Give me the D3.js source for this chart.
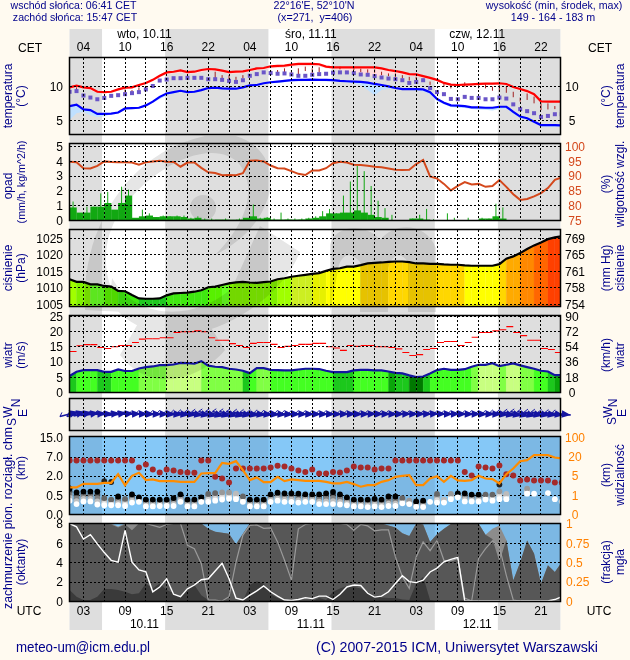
<!DOCTYPE html>
<html lang="pl">
<head>
<meta charset="utf-8">
<script src="https://cdn.jsdelivr.net/npm/d3@7/dist/d3.min.js"></script>
<style>
html,body{margin:0;padding:0;background:#fffaf0;}
svg{display:block;font-family:"Liberation Sans",Arial,sans-serif;}
</style>
</head>
<body>
<svg id="c" width="630" height="660"></svg>
<script>
// ---- data: one value per model hour, hour 0 = 10.11 01:00 UTC ----
const tMax=[9.8,10.05,9.8,9.7,9.15,9.1,9.15,9.5,9.75,9.8,
10.15,10.45,10.9,11.5,12.0,12.1,12.3,12.05,12.1,12.35,
12.5,12.45,12.25,12.05,12.1,12.15,12.35,12.6,12.65,12.9,
12.95,13.0,13.15,13.25,13.25,13.25,13.2,12.85,12.75,12.75,
12.75,12.75,12.75,12.75,12.75,12.6,12.35,12.2,12.0,11.75,
11.7,11.45,11.2,10.9,10.45,10.2,10.15,10.2,10.25,10.3,
10.35,10.35,10.4,10.3,9.85,9.55,9.25,8.8,7.75,7.7,7.7,7.7];
const tMaxLow=[9.6,9.8,9.6,9.4,9.0,8.95,9.0,9.3,9.55,9.65,
9.95,10.25,10.7,11.3,11.7,11.85,12,11.8,11.8,12.05,
12.2,12.2,12,11.8,11.8,11.9,12.1,12.3,12.4,12.6,
12.65,12.7,12.85,12.9,12.9,12.9,12.85,12.6,12.5,12.35,
12.2,12,11.9,11.7,11.35,11.5,11.7,11.7,11.7,11.5,
11.45,11.2,11,10.7,10.3,10.05,10,10.05,10.1,10.15,
10.2,10.2,10.25,10.1,9.6,9.3,8.95,8.5,7.6,7.6,7.6,7.6];
const tMin=[7.05,7.25,6.55,6.45,5.9,5.9,5.95,6.1,6.7,6.75,
6.8,7.15,7.7,8.4,8.9,9.1,9.3,9.1,9.15,9.4,
9.7,9.75,9.65,9.6,9.6,9.8,10.1,10.15,10.4,10.55,
10.65,10.75,10.85,10.9,10.9,10.95,10.9,10.9,10.85,10.75,
10.7,10.65,10.6,10.5,10.3,10.15,9.95,9.7,9.55,9.55,
9.55,9.5,9.1,8.1,7.55,7.15,7.1,7.05,6.85,6.85,
6.8,6.8,6.95,6.95,6.2,5.5,5.25,4.75,4.25,4.25,4.25,4.2];
const tMinLow=[5.0,6.0,6.2,5.7,5.45,5.55,5.85,5.95,6.5,6.65,
6.7,7,7.55,8.1,8.6,8.9,9.1,9,9,9.25,
9.6,9.65,9.5,9.45,9.5,9.7,10.0,10.05,10.3,10.4,
10.45,10.55,10.7,10.7,10.75,10.8,10.75,10.7,10.7,10.6,
10.5,10.4,10.1,9.4,8.65,9.4,9.6,9.55,9.4,9.4,
9.35,9.2,8.8,7.8,7.3,6.9,6.8,6.75,6.6,6.55,
6.5,6.4,6.6,6.7,5.9,5.3,5.05,4.55,4.05,4.0,4.0,4.0];
const tMean=[9.15,9.25,8.6,8.3,8.05,8.25,8.55,8.65,8.8,8.95,
9.1,9.5,10.0,10.8,10.95,11.15,11.15,11.2,11.2,11.2,
11.0,11.0,10.9,10.75,10.6,10.85,11.5,11.75,12.0,11.9,
11.8,11.85,11.7,11.5,11.5,11.65,11.75,11.8,11.95,12.0,
12.0,11.9,11.7,11.65,11.45,11.25,11.1,11.0,10.85,10.45,
10.6,10.85,9.7,9.1,8.8,8.1,8.05,8.4,8.25,8.25,
8.05,8.05,8.3,8.15,7.3,6.6,6.3,6.0,5.45,5.6,5.85,5.85];
const stalkHours=[1,8,9,10,11,12,21,22,23,24,25,29,30,31,32,33,34,35,36,38,39,41,42,43,44,45,46,47,48,49,50,51,52,54,55,57,59,60,61,62,63,64,65,66,67,68,69,70];
const stalkHi=[9.8,9.5,9.4,9.8,10,10.3,12.1,11.6,11.6,11.35,11.6,12.35,12.35,12.6,12.35,12.6,12.85,12.6,12.75,12.95,12.85,12.85,12.55,12.45,12.45,12.1,11.85,11.85,11.6,11.35,11.35,11.1,10.65,10.4,10.1,10.55,10.3,10.25,9.9,10.15,9.9,9.15,8.3,8.9,8.45,7.45,7.45,7.05];
const stalkLo=[9.4,9.0,9.0,9.3,9.65,9.9,11.15,11,11,10.9,11.15,11.95,11.95,11.95,11.85,11.75,12.2,11.85,12.05,12.6,12.45,12.35,12.05,11.95,11.95,11.6,11.45,11.25,11.1,10.8,11.0,10.9,10.15,9.9,9.65,9.9,9.65,9.65,9.3,9.15,9.0,8.35,7.7,7.95,7.45,6.45,6.55,6.6];

const rainBars=[.85,.5,.5,.9,.9,1.15,.7,1.15,1.65,.15,
.25,.3,.2,.25,.25,.25,.2,.1,.15,.03,
.02,.03,.03,.02,.03,.15,.25,.1,.15,.03,
.03,.04,.03,.04,.1,.15,.25,.45,.45,.5,
.5,.65,.5,.35,.2,.15,0,0,0,.1,
.1,.03,0,0,0,0,0,0,0,.1,
.1,.25,.1,0,0,0,0,0,0,0,0];
const rainSpikes=[1.25,0,.9,.9,1.8,1.9,0,2.25,2.05,0,
.7,.45,.2,.3,.25,.3,.3,.15,.25,.1,
.1,0,.1,0,.1,.1,1.05,.15,.2,.1,
.5,.1,.1,.1,.15,.25,.6,.75,.45,1.65,
2.6,3.65,3.3,2.3,1.3,.8,.35,0,0,.1,
.35,.75,.05,0,.45,.15,0,.15,0,.15,
.1,1.1,.85,0,0,0,0,0,0,0,0];
const humidity=[94.7,94.5,92.5,92.4,93.3,94.8,94.6,94.5,94.5,94.4,
93.7,94.5,94.8,95,94.7,94.6,93,94.4,94.4,92.6,
91.1,90.9,90.1,90.2,90.1,90.8,95,95.1,94.8,93.4,
92.5,92.4,91.5,90.6,90.2,91.7,91.7,92.5,94.2,94.7,
94.4,93.7,93.6,93.3,93.0,92.8,92.4,92.0,91.9,92.0,
93.9,95.3,89.7,89.0,87.2,85.0,86.5,87.8,87.0,87.2,
86.2,86.5,88.5,86.2,83.7,81.8,82.1,83.0,84.1,85.8,88.6,89.4];
const pressure=[1012.45,1011.65,1011.65,1010.9,1010.9,1010.4,1010.2,1008.9,1008.8,1007.65,
1006.6,1006.5,1006.5,1006.6,1007.55,1008.15,1008.25,1008.35,1008.65,1009.1,
1010,1010.2,1010.7,1011.2,1011.5,1011.65,1011.45,1011.35,1011.55,1011.75,
1012.45,1012.75,1013.2,1013.5,1013.8,1014.1,1014.3,1015,1015.6,1015.8,
1016.3,1016.3,1016.75,1017.25,1017.45,1017.55,1017.75,1017.85,1017.85,1017.65,
1017.25,1017.25,1017.15,1017.15,1016.95,1016.85,1016.85,1016.65,1016.55,1016.55,
1016.55,1016.55,1017.05,1018.7,1019.4,1020.4,1021.65,1022.75,1023.65,1024.65,1025.2,1025.5];
const wind=[5.25,6.65,7.2,7.2,7.2,6.65,6.65,7.4,6.9,6.9,
7.75,8.2,8.4,8.85,8.85,9.05,9.6,9.5,9.3,10.15,
8.65,8.3,8.2,7.65,7.4,7.0,6.2,7.85,7.85,7.3,
7.2,7.1,7.1,7.4,7.65,7.65,7.55,7.0,6.55,6.55,
6.55,7.1,7.3,7.3,7.1,7.1,6.75,6.3,6.1,5.45,
4.9,5.1,6.1,7.2,7.65,7.3,7.3,7.5,8.3,8.95,
8.95,9.5,8.5,8.95,9.4,8.75,8.2,7.65,7.0,6.75,5.55,5.55];
const windClass=[2,3,3,3,2,2,3,3,3,3,
4,4,4,4,5,5,5,5,5,4,
4,4,4,4,4,2,3,4,4,3,
3,3,3,3,3,3,3,3,2,2,
2,3,3,3,3,3,1,2,2,0,
0,2,3,3,3,3,3,3,4,5,
5,5,4,5,5,4,4,3,3,2,1,1];
const gust=[13.3,15.2,15.6,15.6,14.65,14.3,14.9,15.3,15.3,16.3,
17.4,17.5,17.5,17.85,17.85,19.55,19.8,19.8,20.1,19.8,
17.85,17,17,15.9,15.3,14.65,16,16.3,16.3,15.65,
14.65,15,15.3,15.65,15.65,16,16,14.9,14.45,13.7,
15.3,15,15.3,15.3,14.9,14.9,14.65,14.2,13,12,
12.3,14,14.3,16.3,16.6,16.6,15.3,16.3,18,19.55,
19.55,20.1,20.5,21.5,19.55,18.55,17,17,14.3,14,13];
const windDir=[255,255,258,262,265,268,265,262,265,268,
270,272,272,272,273,275,276,278,280,282,
284,285,285,285,284,282,280,278,276,274,
274,273,272,272,271,271,272,272,271,270,
270,271,270,269,270,270,271,270,269,270,
268,268,267,269,270,269,270,271,270,271,
272,273,276,280,282,284,284,282,282,280,278,276];

const visibility=[2.56,2.56,3.3,3.3,3.3,3.5,3.5,6.05,3,4.93,
7.1,4.05,4.2,3.85,3.85,3.85,3.7,3.7,3.7,6.58,
6.84,6.84,15,14.2,16.3,9.2,4.05,4.6,3.65,3.65,
4.73,3.85,4.2,4.05,3.9,3.9,3.9,3.7,3.37,3.37,
3.7,3.24,2.7,3.03,3.03,3.7,4.05,4.73,4.93,5.26,
3.03,3.03,4.39,4.86,3.7,4.93,3.98,3.9,4.05,4.93,
4.39,4.25,3.37,6.05,10.5,16.3,17.1,25.4,25.4,25.4,19.2,18.4];
const highBase=[5.95,5.95,5.95,5.95,5.95,5.95,5.95,5.95,5.95,5.95,
4.1,4.9,3.6,2.8,3.6,3.3,2.95,2.8,2.7,5.95,
5.95,1.9,1.77,1.47,3.85,3.85,3.85,3.85,3.85,4.1,
4.55,4.35,3.85,3.3,2.95,3.6,2.5,2.5,2.95,2.8,
3.3,4.35,4.1,4.1,3.6,3.85,3.85,5.95,5.95,5.95,
5.95,5.95,5.95,5.95,5.95,5.95,5.95,2.95,2,4.35,
4.1,3.85,4.6,2.35,2,1.62,1.7,1.62,1.62,1.62,1.47,1.47];
const baseTop=[1,.7,.76,.76,.76,.42,.38,.46,.4,.55,
.44,.38,.38,.38,.38,.42,.55,.38,.38,.44,
.58,.65,.7,.7,.6,.46,.38,.38,.38,.55,
.68,.63,.63,.6,.55,.55,.55,.63,.73,.55,
.44,.38,.38,.38,.4,.38,.46,.46,.42,.35,
.33,.35,null,.58,.38,.58,.63,.63,.53,.53,
.53,.53,.78,.58,null,null,.99,null,null,null,null,null];
const baseShade=[0,0,0,0,0,1,1,0,1,0,
0,0,0,0,0,0,0,0,0,0,
1,1,2,2,3,1,0,0,0,0,
0,0,0,0,0,0,0,0,0,0,
0,0,0,0,0,0,0,0,1,2,
0,0,0,1,3,2,0,0,0,0,
1,1,2,3,0,0,2,0,0,0,0,0];
const baseBottom=[.35,.26,.33,.33,.25,.23,.23,.23,.21,.3,
.32,.2,.2,.21,.21,.21,.32,.2,.2,.32,
.32,.35,.38,.4,.39,.32,.2,.2,.2,.32,
.35,.32,.32,.3,.32,.32,.26,.26,.26,.25,
.23,.2,.2,.18,.2,.18,.21,.21,.28,.26,
.19,.18,.32,.3,.3,.39,.44,.33,.33,.33,
.38,.35,.39,.39,null,null,.6,.6,null,.65,.39,.33];
const upperHours=[5,6,62];
const upperBase=[1.57,1.5,1.3];

const cloudTotal=[8,8,8,8,8,8,8,7.7,8,8,
8,8,8,8,8,8,8,8,8,8,
7.45,7.15,7.05,6.95,5.85,6.95,8,8,8,8,
8,8,8,8,8,8,8,8,8,8,
8,8,8,8,8,8,7.8,7.6,7.0,6.7,
8,7.9,6.1,6.9,7.45,7.95,8,8,8,8,
6.85,7.45,7.8,6.3,2.15,4,6.25,4.9,1.8,3.7,3,4];
const cloudMid=[8,8,8,8,8,8,7.9,7.6,7.9,7.3,
8,8,8,8,8,8,8,8,8,8,
7.45,7.15,7.05,6.95,5.85,6.95,8,8,8,8,
8,8,8,8,8,8,8,8,8,8,
8,8,8,8,8,8,7.8,7.6,7.0,6.7,
8,7.9,6.1,6.9,7.45,7.95,8,8,8,8,
6.85,6.4,4.05,6.3,2.15,4,6.25,4.9,1.8,3.7,3,4];
const cloudLow=[1.13,.45,.1,.1,.45,1.23,1.23,1.13,.95,.7,
.8,1.8,1.3,1.8,1.13,.8,.5,1.3,1.65,.6,
.1,0,0,0,0,0,1.65,2.05,1.8,.7,
.3,.1,0,0,0,0,.3,.1,.95,1.3,
1.55,1.45,1.3,.85,.5,.35,.3,.3,.15,.1,
1.8,2.5,.1,0,0,0,0,0,0,0,
0,0,0,0,0,0,0,0,0,0,0,0];
const fogLine=[8,7.65,6.4,6.85,5.9,5,4.2,4,7.3,4,
3.2,3,.95,1.45,2.3,.7,.45,1.25,1.65,2.2,
2.3,3.1,3.9,2.3,.3,.1,.6,1.05,1.55,.95,
.5,.1,.05,.15,.35,.25,.5,.5,.15,.7,
1.45,1.65,1.6,.8,.4,.5,.95,1.8,2.6,2,
1.9,2.15,3,3.4,4.05,4.3,4.5,0,0,0,
0,0,0,0,0,0,0,0,0,0,.15,.45];
const greyLine=[8,8,8,8,8,8,8,8,8,8,
8,8,7.8,7.6,7.9,8,8,5.75,5.4,3.85,
.1,.1,0,.45,4,6.8,7.8,7.85,7.5,7.55,
6.1,4.2,2.15,7.45,7.9,8,8,8,8,8,
7.9,7.3,7.9,7.75,7.25,7.35,7.35,4.55,2.5,1.3,
4.55,6.1,5.2,6.25,4.2,4.15,4.4,.3,0,4.4,
5.4,6.2,5.6,2.65,.1,0,0,0,0,0,0,0];

// time axis
const hourTicks=[2,8,14,20,26,32,38,44,50,56,62,68];
const cetLabels=["04","10","16","22","04","10","16","22","04","10","16","22"];
const utcLabels=["03","09","15","21","03","09","15","21","03","09","15","21"];
const nightStart=[-1,13.78,37.78,61.78];
const nightEnd=[4.68,28.68,52.68,70.8];
const gridHours=d3.range(2,71,3);
const dayNames=["wto, 10.11","śro, 11.11","czw, 12.11"];
const dayHours=[10.8,34.8,58.8];
const dateNames=["10.11","11.11","12.11"];

const NAVY="#00008b", HUM="#d4481c", VIS="#ff8000";
const x=d3.scaleLinear().domain([0,70.8]).range([69.6,560.4]);
const hours=d3.range(72);
const L=69.5,R=560.5;

const svg=d3.select("#c");
const defs=svg.append("defs");
const gBack=svg.append("g"), gFill=svg.append("g"), gWater=svg.append("g"), gMarks=svg.append("g"), gFrame=svg.append("g"), gText=svg.append("g");

// panels
const panels={
 temp:{top:57.5,bot:134.5},
 rain:{top:143.5,bot:220.5},
 press:{top:229.5,bot:306.5},
 wind:{top:315.5,bot:392.5},
 dir:{top:398.5,bot:430.5},
 base:{top:436.5,bot:514.5},
 cloud:{top:523.5,bot:601.5}
};
Object.entries(panels).forEach(([k,p])=>{
  defs.append("clipPath").attr("id","clip-"+k).append("rect").attr("x",L).attr("y",p.top).attr("width",R-L).attr("height",p.bot-p.top);
});
const yT=d3.scaleLinear().domain([5,10]).range([120,86]);
const yR=d3.scaleLinear().domain([0,5]).range([220,146]);
const yH=d3.scaleLinear().domain([75,100]).range([220,146]);
const yP=d3.scaleLinear().domain([1005,1025]).range([303.7,238]);
const yMm=d3.scaleLinear().domain([1005*.75006,1025*.75006]).range([303.7,238]);
const yW=d3.scaleLinear().domain([0,25]).range([392,316]);
const yKmh=d3.scaleLinear().domain([0,90]).range([392,316]);
const yB=d3.scaleLinear().domain([0,.5,2,7,15]).range([514,495,475.5,456.5,436.8]);
const yV=d3.scaleLinear().domain([0,1,5,20,100]).range([514,495,475.5,456.5,436.8]);
const yC=d3.scaleLinear().domain([0,8]).range([601,523.5]);
const yF=d3.scaleLinear().domain([0,1]).range([601,523.5]);

// page/header background bands
gBack.append("rect").attr("x",L).attr("y",29).attr("width",R-L).attr("height",601).attr("fill","#ffffff");
gBack.selectAll("rect.n").data(nightStart).join("rect").attr("class","n")
 .attr("x",(d,i)=>Math.max(L,x(d))).attr("y",29)
 .attr("width",(d,i)=>Math.min(R,x(nightEnd[i]))-Math.max(L,x(d))).attr("height",601).attr("fill","#dedede");

// sky in the two lower panels
[panels.base,panels.cloud].forEach(p=>{
 gFill.append("rect").attr("x",L).attr("y",p.top).attr("width",R-L).attr("height",p.bot-p.top).attr("fill","#85c8f7");
 gFill.selectAll(null).data(nightStart).join("rect")
  .attr("x",d=>Math.max(L,x(d))).attr("y",p.top)
  .attr("width",(d,i)=>Math.min(R,x(nightEnd[i]))-Math.max(L,x(d))).attr("height",p.bot-p.top).attr("fill","#7cb8e4");
});

// pressure fill
const pressColor=d3.scaleThreshold()
 .domain([1007.5,1009.5,1010.6,1011.2,1012,1013,1014,1015,1016.7,1018,1020,1022,1024])
 .range(["#1fc81f","#3fe810","#58f000","#66ff22","#80f000","#a0ff00","#ccee22","#e6f000","#ffff00","#ffd700","#ffaa00","#ff8800","#ff6600","#ff4000"]);
const gPF=gFill.append("g").attr("clip-path","url(#clip-press)");
gPF.selectAll("path").data(d3.range(71)).join("path")
 .attr("fill",i=>pressColor(pressure[i]))
 .attr("d",i=>`M${x(i)},306V${yP(pressure[i])}L${x(i+1)},${yP(pressure[i+1])}V306Z`)
 .attr("stroke",i=>pressColor(pressure[i])).attr("stroke-width",.3);

// wind fill
const windColor=d3.scaleOrdinal().domain([0,1,2,3,4,5]).range(["#007800","#0aa50a","#1cc81c","#44ff22","#80ff44","#c8ff80"]);
const gWF=gFill.append("g").attr("clip-path","url(#clip-wind)");
gWF.selectAll("path").data(d3.range(71)).join("path")
 .attr("fill",i=>windColor(windClass[i])).attr("stroke",i=>windColor(windClass[i])).attr("stroke-width",.3)
 .attr("d",i=>`M${x(i)},392V${yW(wind[i])}L${x(i+1)},${yW(wind[i+1])}V392Z`);

// cloud layers
const gCF=gFill.append("g").attr("clip-path","url(#clip-cloud)");
const cloudArea=d3.area().x((d,i)=>x(i)).y0(601.5).y1(d=>yC(d));
gCF.append("path").attr("d",cloudArea(cloudTotal)).attr("fill","#8c8c8c");
gCF.append("path").attr("d",cloudArea(cloudMid)).attr("fill","#575757");
gCF.append("path").attr("d",cloudArea(cloudLow)).attr("fill","#3a3a3a");

// watermark swoosh behind the marks
const gW=gWater.style("mix-blend-mode","multiply").attr("fill","#e6e6e6").attr("clip-path","url(#clip-water)");
defs.append("clipPath").attr("id","clip-water").append("rect").attr("x",L).attr("y",136).attr("width",R-L).attr("height",250);
gW.append("path").attr("d","M85,310C80,235 125,150 210,135C255,128 280,165 268,198C258,228 235,245 215,255C245,225 258,190 240,165C215,135 150,165 118,215C100,245 102,285 125,312Z");
gW.append("circle").attr("cx",203).attr("cy",208).attr("r",13);
gW.append("path").attr("d","M112,278C135,320 195,322 232,288L260,226L300,252C285,290 240,325 190,335C150,338 120,320 110,300Z");
gW.append("path").attr("d","M330,312V245C335,225 365,222 380,240C395,222 425,222 436,248V312H408V262C400,250 392,255 388,268V312H360V262C350,250 340,255 338,270Z");
gW.append("path").attr("d","M120,355C150,395 200,380 225,350L205,318L140,320Z");

// --- temperature marks ---
const tClip=gMarks.append("g").attr("clip-path","url(#clip-temp)");
const bandT=(lo,hi)=>d3.area().x((d,i)=>x(i)).y0((d,i)=>yT(lo[i])).y1((d,i)=>yT(hi[i]))(hours);
tClip.append("path").attr("d",bandT(tMaxLow,tMax)).attr("fill","#ffdcdc");
tClip.append("path").attr("d",bandT(tMinLow,tMin)).attr("fill","#bfe0ff");
tClip.selectAll("line.st").data(stalkHours).join("line").attr("class","st")
 .attr("x1",h=>x(h)).attr("x2",h=>x(h))
 .attr("y1",(h,i)=>yT(stalkHi[i])).attr("y2",(h,i)=>yT(stalkLo[i]))
 .attr("stroke","#a02020").attr("stroke-width",1);
tClip.selectAll("rect.m").data(tMean).join("rect").attr("class","m")
 .attr("x",(d,i)=>x(i)-2).attr("y",d=>yT(d)-2).attr("width",4).attr("height",4).attr("fill","#6a55c8");
const lineV=(sc)=>d3.line().x((d,i)=>x(i)).y(d=>sc(d));
tClip.append("path").attr("d",lineV(yT)(tMax)).attr("fill","none").attr("stroke","#ff0000").attr("stroke-width",2.2);
tClip.append("path").attr("d",lineV(yT)(tMin)).attr("fill","none").attr("stroke","#0000ff").attr("stroke-width",2.2);

// --- rain & humidity ---
const rClip=gMarks.append("g").attr("clip-path","url(#clip-rain)");
rClip.selectAll("rect").data(rainBars).join("rect")
 .attr("x",(d,i)=>x(i)).attr("width",(d,i)=>x(i+1)-x(i)+.2)
 .attr("y",d=>yR(d)).attr("height",d=>220-yR(d)).attr("fill","#12a812");
rClip.selectAll("line").data(rainSpikes).join("line")
 .attr("x1",(d,i)=>x(i+.5)).attr("x2",(d,i)=>x(i+.5))
 .attr("y1",220).attr("y2",d=>yR(d)).attr("stroke","#12a812").attr("stroke-width",1);
rClip.append("path").attr("d",lineV(yH)(humidity)).attr("fill","none").attr("stroke",HUM).attr("stroke-width",2);

// --- pressure line ---
gMarks.append("path").attr("clip-path","url(#clip-press)").attr("d",lineV(yP)(pressure)).attr("fill","none").attr("stroke","#000").attr("stroke-width",2.2);

// --- wind ---
const wClip=gMarks.append("g").attr("clip-path","url(#clip-wind)");
wClip.append("path").attr("d",lineV(yW)(wind)).attr("fill","none").attr("stroke","#1414a0").attr("stroke-width",2.2);
wClip.selectAll("line").data(gust).join("line")
 .attr("x1",(d,i)=>x(i)).attr("x2",(d,i)=>x(i+1)).attr("y1",d=>yW(d)).attr("y2",d=>yW(d))
 .attr("stroke","#ff0000").attr("stroke-width",1.1);

// --- wind direction arrows ---
const yDir=414;
const arrows=gMarks.append("g").attr("fill","#1414a0").attr("stroke","#1414a0");
const ag=arrows.selectAll("g").data(windDir).join("g")
 .attr("transform",(d,i)=>`translate(${x(i)},${yDir}) rotate(${d-270})`);
ag.append("line").attr("x1",-10).attr("x2",9).attr("y1",0).attr("y2",0).attr("stroke-width",1.5);
ag.append("path").attr("d","M0,-3.8L9,0L0,3.8Z").attr("stroke","none");
ag.append("line").attr("x1",-10).attr("y1",0).attr("x2",-7).attr("y2",-3.5).attr("stroke-width",.9);

// --- dashed grids (drawn after fills) ---
const grid=gFrame.append("g");
function dashAxis(sc,vals){
 const a=d3.axisLeft(sc).tickValues(vals).tickSize(-(R-L)).tickFormat("");
 const g=grid.append("g").attr("transform",`translate(${L},0)`).call(a);
 g.select(".domain").remove();
 g.selectAll("line").attr("stroke","#000").attr("stroke-dasharray","2,2").attr("shape-rendering","crispEdges");
}
dashAxis(yT,[5,10]);
dashAxis(yR,[1,2,3,4,5]);
dashAxis(yP,[1005,1010,1015,1020,1025]);
dashAxis(yW,[5,10,15,20,25]);
dashAxis(yB,[.5,2,7]);
dashAxis(yC,[2,4,6]);
Object.values(panels).forEach(p=>{
 grid.selectAll(null).data(gridHours).join("line")
  .attr("x1",h=>x(h)).attr("x2",h=>x(h)).attr("y1",p.top).attr("y2",p.bot)
  .attr("stroke","#000").attr("stroke-dasharray","2,2").attr("shape-rendering","crispEdges");
});

// --- cloud base dots (over the grid) ---
const dots=gFrame.append("g").attr("clip-path","url(#clip-base)");
const shadeRamp=["#000000","#666666","#999999","#bbbbbb"];
hours.forEach(h=>{
 const top=baseTop[h],bot=baseBottom[h];
 if(top!==null&&bot!==null){
  const t=[.75,.5,.25];
  const ramp=d3.interpolateRgb(shadeRamp[baseShade[h]],"#ffffff");
  t.forEach(k=>{
   dots.append("circle").attr("cx",x(h)).attr("cy",yB(top)+(yB(bot)-yB(top))*(1-k)).attr("r",2.9).attr("fill",ramp(1-k));
  });
  dots.append("circle").attr("cx",x(h)).attr("cy",yB(top)).attr("r",2.9).attr("fill",shadeRamp[baseShade[h]]);
 } else if(top!==null){
  dots.append("circle").attr("cx",x(h)).attr("cy",yB(top)).attr("r",2.9).attr("fill",shadeRamp[baseShade[h]]);
 }
 if(bot!==null) dots.append("circle").attr("cx",x(h)).attr("cy",yB(bot)).attr("r",2.9).attr("fill","#fff");
});
dots.selectAll("circle.u").data(upperHours).join("circle").attr("class","u")
 .attr("cx",h=>x(h)).attr("cy",(h,i)=>yB(upperBase[i])).attr("r",2.9).attr("fill","#222");
dots.selectAll("circle.h").data(highBase).join("circle").attr("class","h")
 .attr("cx",(d,i)=>x(i)).attr("cy",d=>yB(d)).attr("r",3).attr("fill","#a52a2a");
dots.append("path").attr("d",lineV(yV)(visibility)).attr("fill","none").attr("stroke","#ff8c00").attr("stroke-width",2.2);

// --- cloud panel lines ---
const cl=gFrame.append("g").attr("clip-path","url(#clip-cloud)");
cl.append("path").attr("d",lineV(yC)(greyLine)).attr("fill","none").attr("stroke","#9a9a9a").attr("stroke-width",1.2);
cl.append("path").attr("d",lineV(yC)(fogLine)).attr("fill","none").attr("stroke","#fff").attr("stroke-width",1.4);

// frames
Object.values(panels).forEach(p=>{
 gFrame.append("rect").attr("x",L).attr("y",p.top).attr("width",R-L).attr("height",p.bot-p.top)
  .attr("fill","none").attr("stroke","#000").attr("stroke-width",1.5);
});

// --- axes labels ---
function axisLabels(scale,vals,fmt,side,color,xpos,anchor){
 const a=(side==="left"?d3.axisLeft(scale):d3.axisRight(scale)).tickValues(vals).tickSize(0).tickPadding(0).tickFormat(fmt);
 const g=gText.append("g").attr("transform",`translate(${xpos},0)`).call(a);
 g.select(".domain").remove();
 g.selectAll("text").attr("fill",color).style("font-size","12px").style("font-family",'"Liberation Sans",Arial,sans-serif').attr("text-anchor",anchor||(side==="left"?"end":"start")).attr("dy","0.36em").attr("x",0);
}
const id=d=>String(d);
axisLabels(yT,[5,10],id,"left","#000",63);
axisLabels(yT,[5,10],id,"right","#000",572,"middle");
axisLabels(yR,[0,1,2,3,4,5],id,"left","#000",63);
axisLabels(yH,[75,80,85,90,95,100],id,"right",HUM,575,"middle");
axisLabels(yP,[1005,1010,1015,1020,1025],id,"left","#000",63);
axisLabels(yMm,[1005,1010,1015,1020,1025].map(d=>d*.75006),d=>d3.format(".0f")(d),"right","#000",575,"middle");
axisLabels(yW,[0,5,10,15,20,25],id,"left","#000",63);
axisLabels(yKmh,[0,18,36,54,72,90],id,"right","#000",572,"middle");
axisLabels(yB,[0,.5,2,7,15],d3.format(".1f"),"left","#000",63);
axisLabels(yV,[0,1,5,20,100],id,"right",VIS,575,"middle");
axisLabels(yC,[0,2,4,6,8],id,"left","#000",63);
axisLabels(yF,[0,.25,.5,.75,1],id,"right",VIS,566,"start");

function txt(s,tx,ty,opt={}){
 const t=gText.append("text").attr("x",tx).attr("y",ty).text(s)
  .attr("fill",opt.fill||"#000").attr("font-size",opt.size||12).attr("text-anchor",opt.anchor||"middle");
 if(opt.rot) t.attr("transform",`rotate(-90,${tx},${ty})`);
 if(opt.len) t.attr("textLength",opt.len).attr("lengthAdjust","spacingAndGlyphs");
 return t;
}
// top header
txt("wschód słońca: 06:41 CET",73.5,9,{fill:NAVY,size:10.6});
txt("zachód słońca: 15:47 CET",75,21,{fill:NAVY,size:10.6});
txt("22°16'E, 52°10'N",314,9,{fill:NAVY,size:10.7});
txt("(x=271,  y=406)",315,21,{fill:NAVY,size:10.7}).style("white-space","pre");
txt("wysokość (min, środek, max)",554,9,{fill:NAVY,size:10.6});
txt("149 - 164 - 183 m",553,21,{fill:NAVY,size:10.7});
dayNames.forEach((d,i)=>txt(d,x(dayHours[i]),38));
hourTicks.forEach((h,i)=>txt(cetLabels[i],x(h),51));
txt("CET",30,52); txt("CET",600,52);
// bottom
hourTicks.forEach((h,i)=>txt(utcLabels[i],x(h),615));
dateNames.forEach((d,i)=>txt(d,x(dayHours[i]),628));
txt("UTC",29,615); txt("UTC",599,615);
txt("meteo-um@icm.edu.pl",16,652,{fill:NAVY,size:14,anchor:"start",len:134});
txt("(C) 2007-2015 ICM, Uniwersytet Warszawski",316,652,{fill:NAVY,size:14,anchor:"start",len:282});
// left rotated titles
const rotL=(s,col,yc,o={})=>txt(s,col===1?12:25,yc,{fill:NAVY,rot:true,...o});
rotL("temperatura",1,96); rotL("(°C)",2,96);
rotL("opad",1,186); rotL("(mm/h, kg/m^2/h)",2,182,{size:10.7});
rotL("ciśnienie",1,268); rotL("(hPa)",2,268);
rotL("wiatr",1,355); rotL("(m/s)",2,355);
rotL("zachmurzenie pion. rozciągł. chm",1,518,{len:182}); rotL("(km)",2,468); rotL("(oktanty)",2,562);
const rotR=(s,col,yc)=>txt(s,col===1?610:624,yc,{fill:NAVY,rot:true});
rotR("(°C)",1,96); rotR("temperatura",2,96);
rotR("(%)",1,184); rotR("wilgotność wzgl.",2,184);
rotR("(mm Hg)",1,268); rotR("ciśnienie",2,268);
rotR("(km/h)",1,355); rotR("wiatr",2,355);
rotR("(km)",1,475); rotR("widzialność",2,475);
rotR("(frakcja)",1,562); rotR("mgła",2,562);
// compass
[[20,403,"N"],[27,413,"E"],[12,412,"W"],[16,422,"S"],[617,403,"N"],[626,413,"E"],[612,412,"W"],[616,421,"S"]]
 .forEach(([a,b,s])=>txt(s,a,b,{fill:NAVY,rot:true}));
</script>
</body>
</html>
